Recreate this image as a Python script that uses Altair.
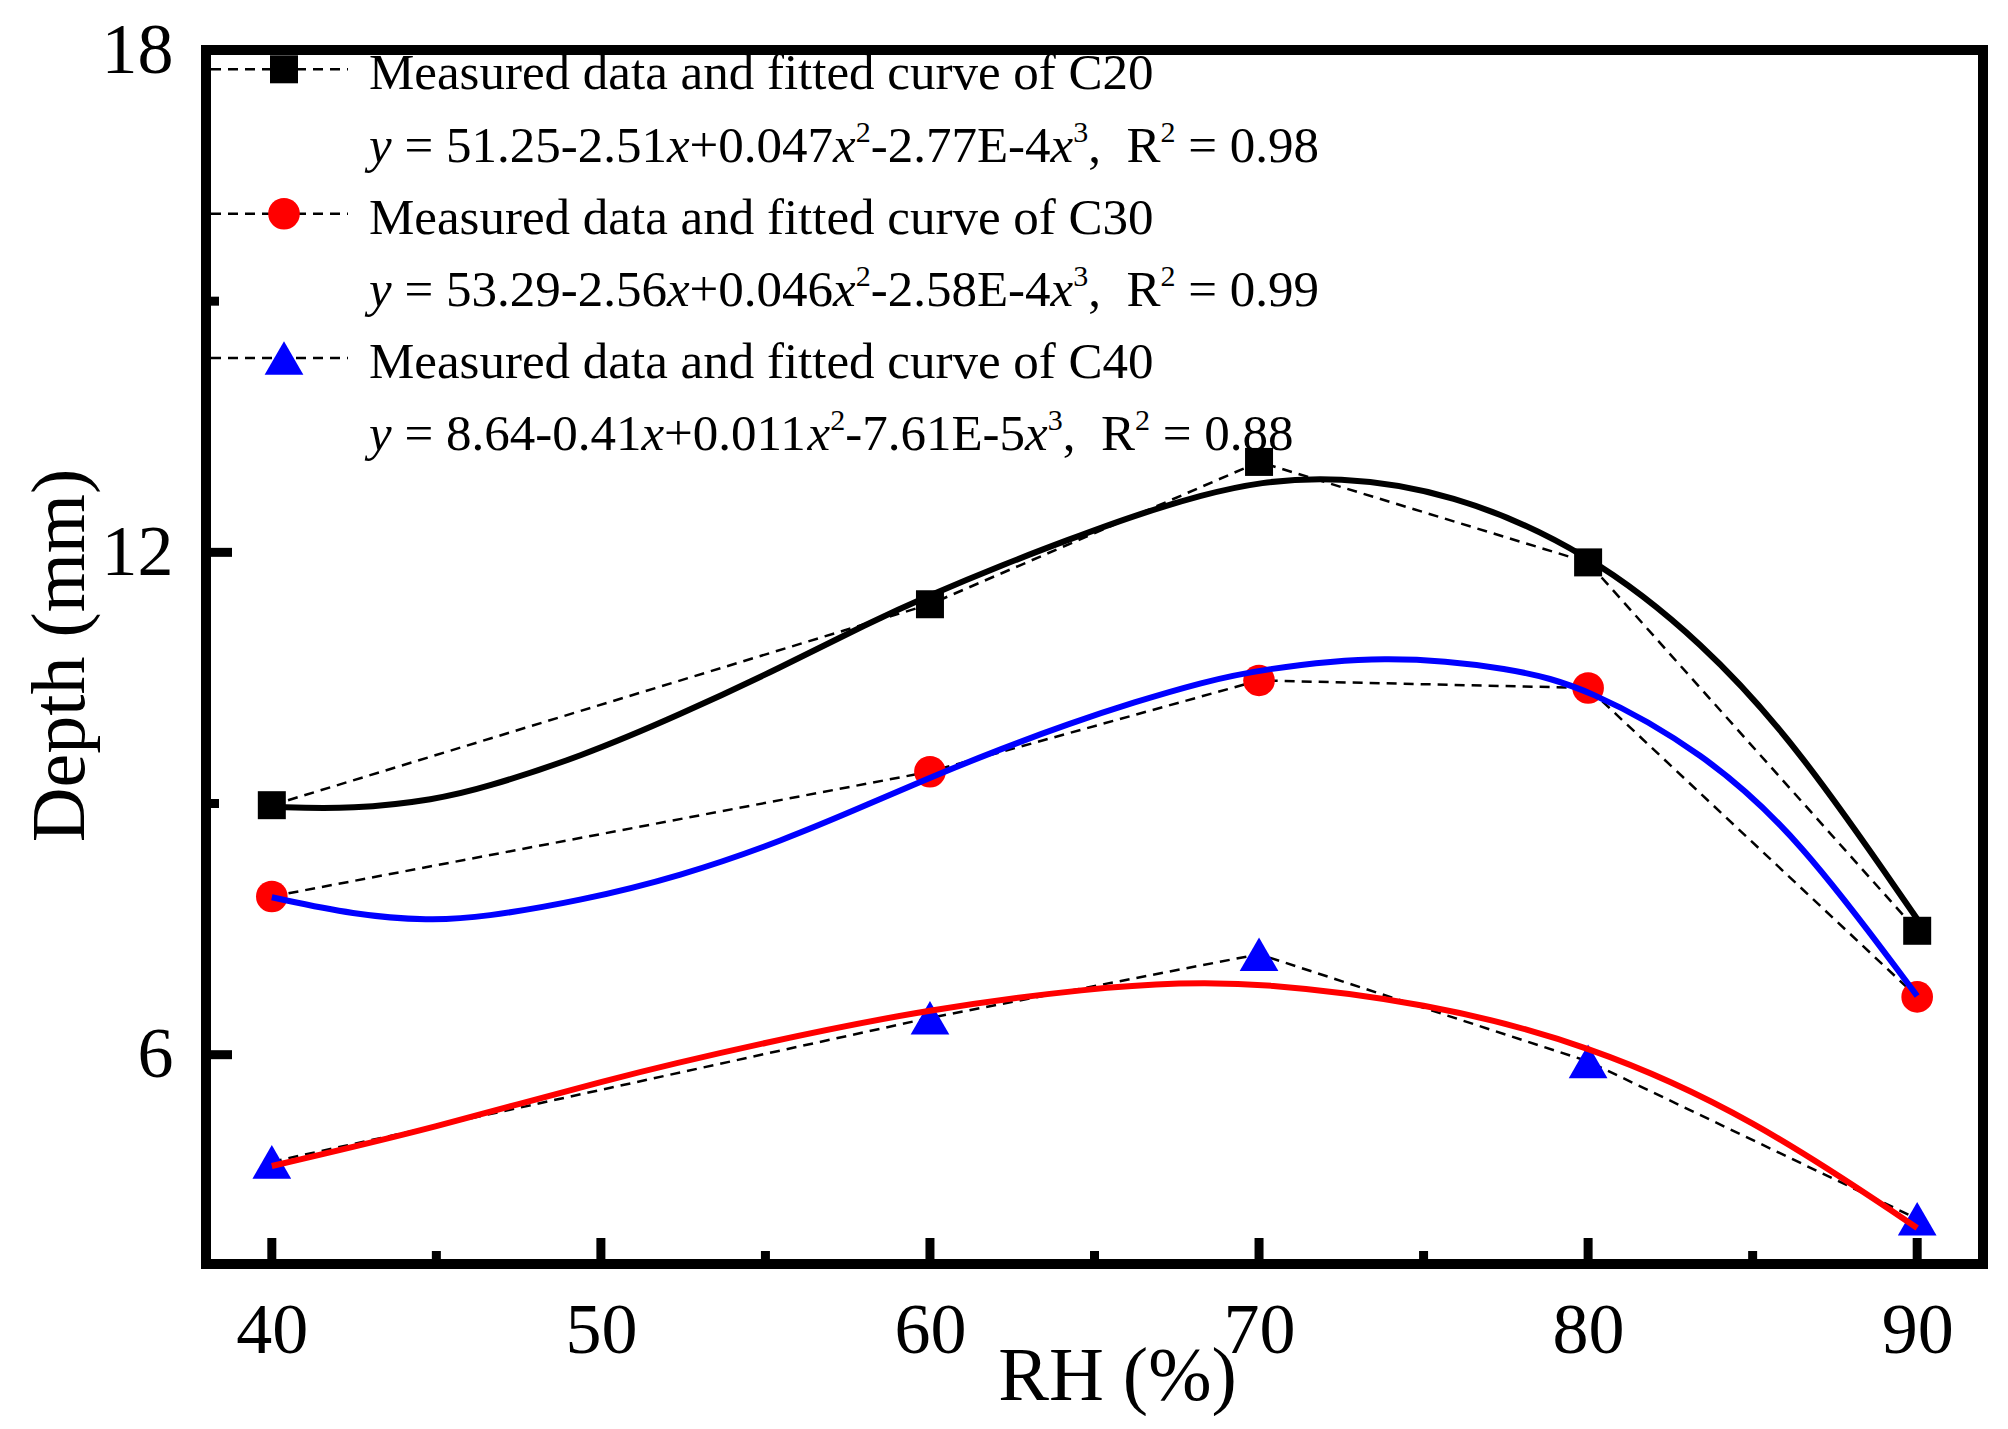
import re

import altair as alt
import pandas as pd

# measured data (RH %, depth mm)
RH = [40, 60, 70, 80, 90]
DEPTH_C20 = [8.98, 11.38, 13.08, 11.88, 7.48]
DEPTH_C30 = [7.89, 9.38, 10.47, 10.38, 6.69]
DEPTH_C40 = [4.72, 6.44, 7.20, 5.92, 4.04]

# fitted cubic curves
FIT_RH_C20 = [40, 42.5, 45, 46.4, 49.4, 52.4, 55.5, 58.1, 60, 62.2, 64.2, 66.2, 68.3, 70, 72.3, 75.8, 80, 83.5, 86.4, 90]
FIT_C20 = [8.96, 8.93, 9.05, 9.18, 9.56, 10.06, 10.63, 11.15, 11.49, 11.85, 12.15, 12.44, 12.69, 12.84, 12.91, 12.73, 12.01, 10.92, 9.67, 7.62]
FIT_RH_C30 = [40, 42.5, 44.8, 46.4, 49.4, 52.4, 55.5, 58.3, 60, 62.2, 64.2, 66.2, 68.3, 70, 73.8, 77.7, 80, 83.5, 86.4, 90]
FIT_C30 = [7.88, 7.67, 7.60, 7.64, 7.84, 8.13, 8.55, 9.02, 9.31, 9.66, 9.95, 10.21, 10.45, 10.60, 10.78, 10.62, 10.38, 9.61, 8.60, 6.70]
FIT_RH_C40 = [40, 45, 50, 55, 60, 65, 67.6, 70, 75, 80, 85, 90]
FIT_C40 = [4.67, 5.13, 5.69, 6.15, 6.55, 6.80, 6.86, 6.86, 6.63, 6.13, 5.25, 3.93]

GRADES = ["C20", "C30", "C40"]
LEGEND_LABELS = [
    "Measured data and fitted curve of C20",
    "Measured data and fitted curve of C30",
    "Measured data and fitted curve of C40",
]
# *...* = italic, ^...^ = superscript
EQUATIONS = [
    "*y* = 51.25-2.51*x*+0.047*x*^2^-2.77E-4*x*^3^,  R^2^ = 0.98",
    "*y* = 53.29-2.56*x*+0.046*x*^2^-2.58E-4*x*^3^,  R^2^ = 0.99",
    "*y* = 8.64-0.41*x*+0.011*x*^2^-7.61E-5*x*^3^,  R^2^ = 0.88",
]

X_MAJOR = [40, 50, 60, 70, 80, 90]
X_MINOR = [45, 55, 65, 75, 85]
Y_MAJOR = [6, 12, 18]
Y_MINOR = [9, 15]

FONT = "Liberation Serif"
W, H = 1777, 1214
LEGEND_SIZE = 51
SUP_SIZE = 30
SUP_RISE = 20

MARKERS = {
    "C20": ("square", "#000000", 784),
    "C30": ("circle", "#ff0000", 1000),
    "C40": ("triangle-up", "#0000ff", 1500),
}
FIT_COLORS = {"C20": "#000000", "C30": "#0000ff", "C40": "#ff0000"}

# Times / Liberation Serif advance widths (1/1000 em) for the equation glyphs
ADV = {c: 500 for c in "0123456789"}
ADV.update({".": 250, "-": 333, "+": 564, "=": 564, " ": 250, ",": 250, "E": 611, "R": 667})
ADV_ITALIC = {"x": 444, "y": 444}


def equation_runs(eq):
    runs = []
    for tok in re.split(r"(\*[^*]+\*|\^[^^]+\^)", eq):
        if not tok:
            continue
        if tok.startswith("*"):
            runs.append(("italic", tok[1:-1]))
        elif tok.startswith("^"):
            runs.append(("sup", tok[1:-1]))
        else:
            runs.append(("normal", tok))
    return runs


def run_width(style, text):
    if style == "italic":
        return sum(ADV_ITALIC.get(c, 500) for c in text) * LEGEND_SIZE / 1000
    size = SUP_SIZE if style == "sup" else LEGEND_SIZE
    return sum(ADV.get(c, 500) for c in text) * size / 1000


x_enc = alt.X(
    "rh:Q",
    scale=alt.Scale(domain=[38, 92], nice=False, zero=False),
    axis=alt.Axis(
        values=X_MAJOR, format="d", title="RH (%)", labelPadding=31,
        labelBaseline="top", titleX=911, titleY=135, titleAlign="center",
        titleBaseline="alphabetic", titleAngle=0,
    ),
)
y_enc = alt.Y(
    "depth:Q",
    scale=alt.Scale(domain=[3.5, 18], nice=False, zero=False),
    axis=alt.Axis(
        values=Y_MAJOR, format="d", title="Depth (mm)", labelPadding=33,
        titleX=-123, titleY=605, titleAlign="center",
        titleBaseline="alphabetic", titleAngle=270,
    ),
)

measured = pd.DataFrame({
    "rh": RH * 3,
    "depth": DEPTH_C20 + DEPTH_C30 + DEPTH_C40,
    "grade": ["C20"] * 5 + ["C30"] * 5 + ["C40"] * 5,
})
fits = {
    "C20": pd.DataFrame({"rh": FIT_RH_C20, "depth": FIT_C20}),
    "C30": pd.DataFrame({"rh": FIT_RH_C30, "depth": FIT_C30}),
    "C40": pd.DataFrame({"rh": FIT_RH_C40, "depth": FIT_C40}),
}

layers = []

# dashed lines joining the measured points
layers.append(
    alt.Chart(measured)
    .mark_line(color="black", strokeWidth=2.5, strokeDash=[10, 7])
    .encode(x=x_enc, y=y_enc, detail="grade:N")
)

# markers
for grade in GRADES:
    shape, color, size = MARKERS[grade]
    layers.append(
        alt.Chart(measured[measured["grade"] == grade])
        .mark_point(shape=shape, filled=True, color=color, size=size, opacity=1)
        .encode(x=x_enc, y=y_enc)
    )

# fitted curves (drawn over the markers, as in the original)
for grade in GRADES:
    layers.append(
        alt.Chart(fits[grade])
        .mark_line(color=FIT_COLORS[grade], strokeWidth=6, interpolate="basis")
        .encode(x=x_enc, y=y_enc)
    )

# inward ticks
for values, field, length in [
    (X_MAJOR, "rh", 26), (X_MINOR, "rh", 13),
    (Y_MAJOR, "depth", 26), (Y_MINOR, "depth", 13),
]:
    base = alt.Chart(pd.DataFrame({field: values})).mark_rule(color="black", strokeWidth=9)
    if field == "rh":
        layers.append(base.encode(x=x_enc, y=alt.value(H), y2=alt.value(H - length)))
    else:
        layers.append(base.encode(y=y_enc, x=alt.value(0), x2=alt.value(length)))

# legend block in the upper left corner
ROW_STEP = 72.2
TEXT_X = 163
one_row = pd.DataFrame({"k": [0]})
for i, grade in enumerate(GRADES):
    base_y = 39.3 + ROW_STEP * 2 * i
    sym_y = base_y - 20
    shape, color, size = MARKERS[grade]
    layers.append(
        alt.Chart(one_row)
        .mark_rule(color="black", strokeWidth=2.5, strokeDash=[10, 7])
        .encode(x=alt.value(5), x2=alt.value(142), y=alt.value(sym_y))
    )
    layers.append(
        alt.Chart(one_row)
        .mark_point(shape=shape, filled=True, color=color, size=size, opacity=1)
        .encode(x=alt.value(78), y=alt.value(sym_y))
    )
    layers.append(
        alt.Chart(one_row)
        .mark_text(align="left", baseline="alphabetic", font=FONT,
                   fontSize=LEGEND_SIZE, color="black")
        .encode(x=alt.value(TEXT_X), y=alt.value(base_y), text=alt.value(LEGEND_LABELS[i]))
    )
    eq_y = base_y + ROW_STEP
    cursor = TEXT_X
    for style, text in equation_runs(EQUATIONS[i]):
        stripped = text.lstrip(" ")
        lead = run_width(style, text[: len(text) - len(stripped)])
        layers.append(
            alt.Chart(one_row)
            .mark_text(
                align="left", baseline="alphabetic", font=FONT, color="black",
                fontSize=SUP_SIZE if style == "sup" else LEGEND_SIZE,
                fontStyle="italic" if style == "italic" else "normal",
            )
            .encode(
                x=alt.value(cursor + lead),
                y=alt.value(eq_y - SUP_RISE if style == "sup" else eq_y),
                text=alt.value(stripped.replace(" ", "\u00a0")),
            )
        )
        cursor += run_width(style, text)

chart = (
    alt.layer(*layers)
    .properties(
        width=W,
        height=H,
        padding={"left": 198, "top": 42, "right": 10, "bottom": 152},
        autosize=alt.AutoSizeParams(type="none"),
        background="white",
    )
    .configure_view(stroke="black", strokeWidth=10)
    .configure_axis(
        grid=False, domain=False, ticks=False,
        labelFont=FONT, labelFontSize=72, labelColor="black",
        titleFont=FONT, titleFontSize=76, titleFontWeight="normal", titleColor="black",
    )
)

chart.save("out.html", embed_options={"renderer": "svg", "actions": False})
